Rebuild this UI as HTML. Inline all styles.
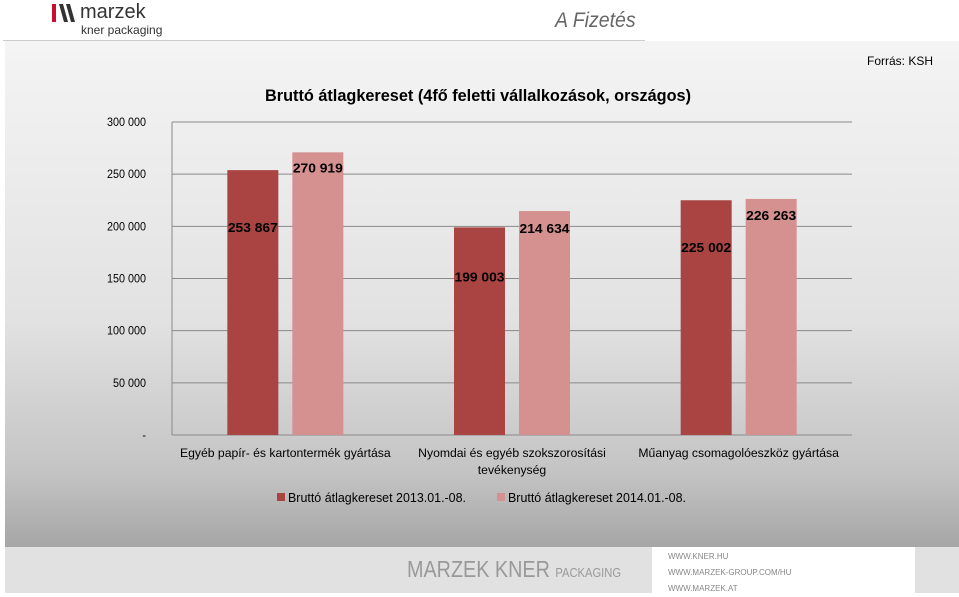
<!DOCTYPE html>
<html><head><meta charset="utf-8"><style>
body{margin:0;width:959px;height:593px;overflow:hidden;background:#fff;font-family:"Liberation Sans",sans-serif;position:relative}
.abs{position:absolute}
</style></head><body>
<div class="abs" style="left:52px;top:2px;width:130px;height:36px">
 <svg width="30" height="20" style="position:absolute;left:0;top:2px"><rect x="0" y="0" width="4" height="18" fill="#c8102e"/><polygon points="7,0 11,0 16,18 12,18" fill="#333"/><polygon points="14,0 18,0 23,18 19,18" fill="#333"/></svg>
 <div class="abs" style="left:28px;top:-1px;font-size:20px;color:#333">marzek</div>
 <div class="abs" style="left:29px;top:21px;font-size:12px;color:#333">kner packaging</div>
</div>
<div class="abs" style="left:555px;top:9px;font-size:21px;font-style:italic;color:#666;transform:scaleX(0.93);transform-origin:left">A Fizetés</div>
<div class="abs" style="left:3px;top:40px;width:642px;height:1px;background:#ccc"></div>
<div class="abs" style="left:5px;top:41px;width:954px;height:506px;background:linear-gradient(#f4f4f4 0%,#e2e2e2 55%,#c4c4c4 85%,#a6a6a6 100%)"></div>
<div class="abs" style="left:5px;top:547px;width:954px;height:46px;background:#e1e1e1"></div>
<div class="abs" style="left:407px;top:556px;font-size:23px;color:#999;transform:scaleX(0.86);transform-origin:left;white-space:nowrap">MARZEK KNER <span style="font-size:13px">PACKAGING</span></div>
<div class="abs" style="left:652px;top:547px;width:263px;height:46px;background:#fff;font-size:8px;color:#888;line-height:16px;padding-left:16px;box-sizing:border-box;padding-top:2px">WWW.KNER.HU<br>WWW.MARZEK-GROUP.COM/HU<br>WWW.MARZEK.AT</div>
<div class="abs" style="left:867px;top:54px;font-size:12px;color:#000">Forrás: KSH</div>
<svg id="chart" class="abs" style="left:0;top:0" width="959" height="593"></svg>
<script>
const categories=["Egyéb papír- és kartontermék gyártása","Nyomdai és egyéb szokszorosítási|tevékenység","Műanyag csomagolóeszköz gyártása"];
const series2013=[253867,199003,225002];
const series2014=[270919,214634,226263];
const seriesNames=["Bruttó átlagkereset 2013.01.-08.","Bruttó átlagkereset 2014.01.-08."];
const tickValues=[0,50000,100000,150000,200000,250000,300000];
const tickLabels=["-","50 000","100 000","150 000","200 000","250 000","300 000"];
const labelOffsets2013=[57,49,47];
const labelOffsets2014=[15,17,16];
const colors=["#a94442","#d49190"];
const svg=document.getElementById('chart');const NS="http://www.w3.org/2000/svg";
const X0=172,X1=852,Y0=435,Ytop=122,VMAX=300000;
const y=v=>Y0-(v/VMAX)*(Y0-Ytop);
const gw=(X1-X0)/categories.length;
const gx=i=>X0+gw*(i+0.5);
function mk(t,a,txt){const e=document.createElementNS(NS,t);for(const k in a)e.setAttribute(k,a[k]);if(txt!=null)e.textContent=txt;svg.appendChild(e);return e;}
const F='"Liberation Sans",sans-serif';
const sq='spacingAndGlyphs';
let e=mk('text',{x:478,y:101,'text-anchor':'middle','font-size':17,'font-weight':'bold','font-family':F,textLength:426,lengthAdjust:sq},"Bruttó átlagkereset (4fő feletti vállalkozások, országos)");

tickValues.forEach((v,i)=>{
 if(v>0){const l=mk('line',{x1:X0,x2:X1,y1:y(v),y2:y(v),stroke:'#8a8a8a','stroke-width':1});
 }
 const t=mk('text',{x:146,y:y(v)+4,'text-anchor':'end','font-size':12,'font-family':F,transform:`translate(146 0) scale(0.9 1) translate(-146 0)`},tickLabels[i]);
 
});
let ax=mk('line',{x1:X0,x2:X0,y1:Ytop,y2:Y0,stroke:'#8a8a8a'});
ax=mk('line',{x1:X0,x2:X1,y1:Y0,y2:Y0,stroke:'#8a8a8a'});
const BW=51;
categories.forEach((c,i)=>{
 [[series2013,labelOffsets2013,-32.5],[series2014,labelOffsets2014,32.5]].forEach((s,k)=>{
  const v=s[0][i],cx=gx(i)+s[2];
  const r=mk('rect',{x:cx-BW/2,y:y(v),width:BW,height:Y0-y(v),fill:colors[k]});
  
  const t=mk('text',{x:cx,y:y(v)+s[1][i]+5,'text-anchor':'middle','font-size':13,'font-weight':'bold','font-family':F,textLength:50,lengthAdjust:sq},v.toLocaleString('en-US').replace(/,/g,' '));
  
 });
 c.split('|').forEach((ln,j)=>{const t=mk('text',{x:gx(i),y:457+j*17,'text-anchor':'middle','font-size':12.2,'font-family':F},ln);
 });
});
[[277,0],[497,1]].forEach(([lx,k])=>{
 const r=mk('rect',{x:lx,y:493,width:8,height:8,fill:colors[k]});
 const t=mk('text',{x:lx+11,y:502,'font-size':12.5,'font-family':F,textLength:178,lengthAdjust:sq},seriesNames[k]);
});
</script>
</body></html>
